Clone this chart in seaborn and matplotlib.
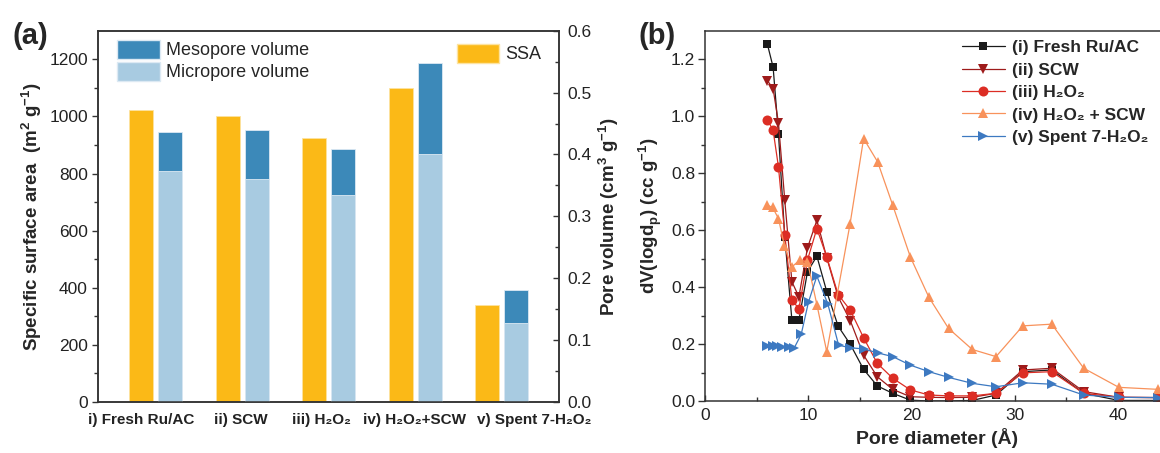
import numpy as np
import pandas as pd
import matplotlib
matplotlib.use("Agg")
import matplotlib.pyplot as plt
import seaborn as sns
from matplotlib.patches import Patch

# ---------------- data: panel (a) ----------------
samples = ["i) Fresh Ru/AC", "ii) SCW", "iii) H₂O₂", "iv) H₂O₂+SCW", "v) Spent 7-H₂O₂"]
ssa = [1023, 1001, 923, 1100, 338]                    # m2/g
micropore = [0.373, 0.360, 0.335, 0.401, 0.128]       # cm3/g
mesopore = [0.064, 0.080, 0.074, 0.147, 0.053]        # cm3/g

# ---------------- data: panel (b) ----------------
grid_x = [6.05, 6.6, 7.12, 7.73, 8.42, 9.1, 9.93, 10.84, 11.8, 12.9, 14.08, 15.37,
          16.7, 18.19, 19.9, 21.7, 23.6, 25.9, 28.2, 30.8, 33.6, 36.7, 40.1, 43.85]
fresh_y = [1.253, 1.173, 0.938, 0.577, 0.284, 0.284, 0.454, 0.509, 0.384, 0.263, 0.199, 0.111,
           0.053, 0.027, 0.003, 0.0, 0.0, 0.002, 0.021, 0.103, 0.109, 0.027, 0.002, 0.002]
scw_y = [1.126, 1.097, 0.977, 0.705, 0.419, 0.366, 0.538, 0.635, 0.503, 0.366, 0.282, 0.161,
         0.085, 0.041, 0.015, 0.013, 0.012, 0.013, 0.027, 0.109, 0.115, 0.033, 0.013, 0.012]
h2o2_y = [0.988, 0.951, 0.822, 0.585, 0.354, 0.325, 0.495, 0.606, 0.506, 0.374, 0.319, 0.222,
          0.132, 0.080, 0.039, 0.021, 0.018, 0.018, 0.027, 0.099, 0.103, 0.027, 0.013, 0.012]
h2o2scw_x = [6.05, 6.55, 7.12, 7.7, 8.42, 9.16, 9.93, 10.84, 11.8, 14.05, 15.37, 16.73,
             18.19, 19.9, 21.7, 23.6, 25.9, 28.2, 30.8, 33.6, 36.7, 40.1, 43.85]
h2o2scw_y = [0.688, 0.680, 0.641, 0.544, 0.471, 0.495, 0.489, 0.339, 0.173, 0.621, 0.922, 0.840,
             0.688, 0.506, 0.364, 0.255, 0.181, 0.156, 0.264, 0.270, 0.115, 0.048, 0.041]
spent_x = [6.05, 6.55, 7.0, 7.5, 8.1, 8.64, 9.32, 10.03, 10.84, 11.91, 12.95, 14.08, 15.37,
           16.73, 18.19, 19.9, 21.7, 23.6, 25.9, 28.2, 30.8, 33.6, 36.7, 40.1, 43.85]
spent_y = [0.193, 0.193, 0.192, 0.19, 0.19, 0.186, 0.234, 0.348, 0.439, 0.34, 0.196, 0.187, 0.183,
           0.169, 0.156, 0.126, 0.103, 0.083, 0.062, 0.05, 0.064, 0.059, 0.021, 0.013, 0.012]
series_labels = ["(i) Fresh Ru/AC", "(ii) SCW", "(iii) H₂O₂", "(iv) H₂O₂ + SCW", "(v) Spent 7-H₂O₂"]

# ---------------- style ----------------
sns.set_style("ticks")
FAM = ["Liberation Sans", "DejaVu Sans"]
plt.rcParams["font.family"] = FAM
plt.rcParams["mathtext.fontset"] = "custom"
plt.rcParams["mathtext.rm"] = "Liberation Sans"
plt.rcParams["mathtext.bf"] = "Liberation Sans:bold"
plt.rcParams["axes.edgecolor"] = "#333333"
plt.rcParams["axes.linewidth"] = 1.1
plt.rcParams["xtick.color"] = "#333333"
plt.rcParams["ytick.color"] = "#333333"
plt.rcParams["xtick.labelcolor"] = "#222222"
plt.rcParams["ytick.labelcolor"] = "#222222"

C_SSA = "#FBB917"
C_MESO = "#3C89B9"
C_MICRO = "#A8CBE1"
C_LINES = ["#1A1A1A", "#9E1B1B", "#DC2D24", "#F8925B", "#3D79C1"]
MARKERS = ["s", "v", "o", "^", ">"]
MSIZES = [6.0, 7.6, 7.2, 7.6, 7.0]

W, H = 1160, 453
fig = plt.figure(figsize=(W / 100, H / 100), dpi=100)

# ---------------- panel (a) ----------------
ax = fig.add_axes([97.7 / W, (H - 402) / H, 461.3 / W, 371.3 / H])
ax2 = ax.twinx()

kinds = ["SSA", "Pore"]
df_ssa = pd.DataFrame({"sample": samples, "value": ssa, "kind": "SSA"})
df_tot = pd.DataFrame({"sample": samples,
                       "value": [a + b for a, b in zip(micropore, mesopore)], "kind": "Pore"})
df_mic = pd.DataFrame({"sample": samples, "value": micropore, "kind": "Pore"})

common = dict(x="sample", y="value", hue="kind", hue_order=kinds, order=samples,
              dodge=True, width=0.672, gap=0.176, legend=False, errorbar=None,
              saturation=1)
sns.barplot(data=df_ssa, ax=ax, palette={"SSA": C_SSA, "Pore": C_SSA},
            edgecolor="#FDE3A0", linewidth=0.6, **common)
sns.barplot(data=df_tot, ax=ax2, palette={"SSA": C_MESO, "Pore": C_MESO},
            edgecolor="#DCE9F3", linewidth=0.6, **common)
sns.barplot(data=df_mic, ax=ax2, palette={"SSA": C_MICRO, "Pore": C_MICRO},
            edgecolor="#DCE9F3", linewidth=0.6, **common)

ax.set_ylim(0, 1300)
ax2.set_ylim(0, 0.6)
for a in (ax, ax2):
    a.set_xlim(-0.672, 4.66)
ax.set_yticks([0, 200, 400, 600, 800, 1000, 1200])
ax.set_yticks(np.arange(100, 1300, 200), minor=True)
ax2.set_yticks([0.0, 0.1, 0.2, 0.3, 0.4, 0.5, 0.6])
ax2.set_yticks(np.arange(0.05, 0.6, 0.1), minor=True)
ax2.yaxis.set_major_formatter(matplotlib.ticker.FormatStrFormatter("%.1f"))

label_shift = [-0.165, -0.02, -0.09, -0.012, 0.373]
ax.set_xticks([i + s for i, s in enumerate(label_shift)])
ax.set_xticklabels(samples, fontsize=11, fontweight="bold", family=FAM)
ax.tick_params(axis="x", length=0, pad=8)
ax.tick_params(axis="y", which="major", direction="out", length=4, width=1.0, labelsize=12.5, pad=3)
ax.tick_params(axis="y", which="minor", direction="out", length=3, width=1.0)
ax2.tick_params(axis="y", which="major", direction="in", length=4, width=1.0, labelsize=12.5, pad=6)
ax2.tick_params(axis="y", which="minor", direction="in", length=3, width=1.0)
ax2.tick_params(axis="x", length=0)
ax.set_xlabel("")
ax2.set_xlabel("")
ax.set_ylabel(r"Specific surface area  (m$^{\mathbf{2}}$ g$^{\mathbf{-1}}$)",
              fontsize=13.5, fontweight="bold", labelpad=4)
ax2.set_ylabel(r"Pore volume (cm$^{\mathbf{3}}$ g$^{\mathbf{-1}}$)",
               fontsize=13.5, fontweight="bold", labelpad=3)
for a in (ax, ax2):
    for s in a.spines.values():
        s.set_visible(True)

ax.legend(handles=[Patch(facecolor=C_MESO, edgecolor="#DCE9F3", label="Mesopore volume"),
                   Patch(facecolor=C_MICRO, edgecolor="#DCE9F3", label="Micropore volume")],
          loc="upper left", bbox_to_anchor=(0.035, 0.985), frameon=False, fontsize=13,
          handlelength=2.35, handleheight=1.25, labelspacing=0.12, handletextpad=0.35,
          borderpad=0.2, borderaxespad=0)
ax2.legend(handles=[Patch(facecolor=C_SSA, edgecolor="#FDE3A0", label="SSA")],
           loc="upper left", bbox_to_anchor=(0.77, 0.975), frameon=False, fontsize=13,
           handlelength=2.35, handleheight=1.25, handletextpad=0.35, borderpad=0.2, borderaxespad=0)

# ---------------- panel (b) ----------------
bx = fig.add_axes([705 / W, (H - 401) / H, 464.4 / W, 370 / H])
xs = [grid_x, grid_x, grid_x, h2o2scw_x, spent_x]
ys = [fresh_y, scw_y, h2o2_y, h2o2scw_y, spent_y]
for x, y, lab, c, m, ms in zip(xs, ys, series_labels, C_LINES, MARKERS, MSIZES):
    sns.lineplot(x=x, y=y, ax=bx, color=c, marker=m, markersize=ms, markeredgewidth=0,
                 linewidth=0.9, label=lab, estimator=None, sort=False)
bx.set_xlim(0, 45)
bx.set_ylim(0, 1.3)
bx.set_xticks([0, 10, 20, 30, 40])
bx.set_xticks([5, 15, 25, 35, 45], minor=True)
bx.set_yticks([0.0, 0.2, 0.4, 0.6, 0.8, 1.0, 1.2])
bx.set_yticks(np.arange(0.1, 1.3, 0.2), minor=True)
bx.yaxis.set_major_formatter(matplotlib.ticker.FormatStrFormatter("%.1f"))
bx.tick_params(axis="x", which="major", direction="in", length=4, width=1.0, labelsize=12.5, pad=5)
bx.tick_params(axis="x", which="minor", direction="in", length=3, width=1.0)
bx.tick_params(axis="y", which="major", direction="out", length=5, width=1.0, labelsize=12.5, pad=2)
bx.tick_params(axis="y", which="minor", direction="out", length=3, width=1.0)
bx.set_xlabel("Pore diameter (Å)", fontsize=14, fontweight="bold", labelpad=4)
bx.set_ylabel(r"dV(logd$_{\mathbf{p}}$) (cc g$^{\mathbf{-1}}$)", fontsize=13.5,
              fontweight="bold", labelpad=5)
for s in bx.spines.values():
    s.set_visible(True)
bx.legend(loc="upper left", bbox_to_anchor=(0.545, 0.985), frameon=False,
          prop={"weight": "bold", "size": 12.5, "family": FAM},
          handlelength=2.5, handletextpad=0.4, labelspacing=0.42, borderpad=0.2, borderaxespad=0)

fig.text(12 / W, 1 - 36 / H, "(a)", fontsize=21, fontweight="bold", va="center", ha="left")
fig.text(638 / W, 1 - 36 / H, "(b)", fontsize=21, fontweight="bold", va="center", ha="left")

fig.savefig("out.png", dpi=100)
